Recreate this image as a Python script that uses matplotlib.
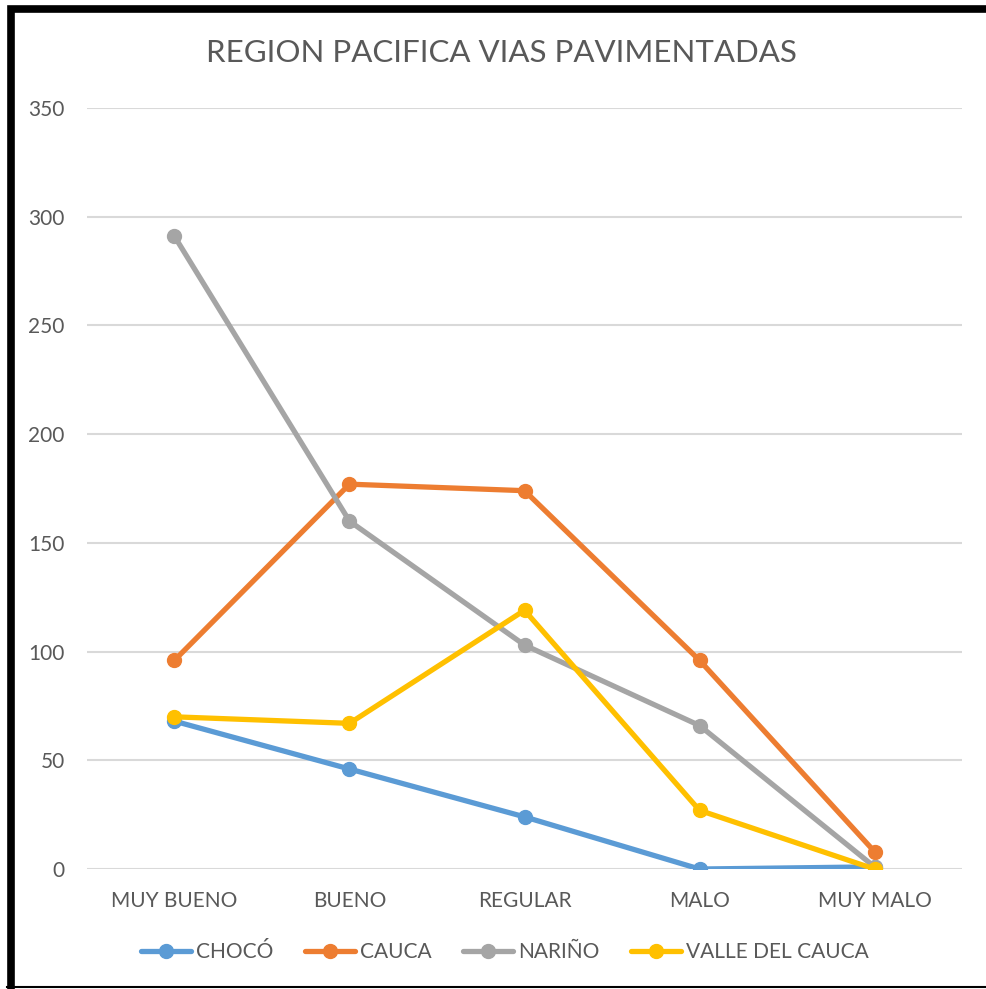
import matplotlib.pyplot as plt
from matplotlib.lines import Line2D

categorias = ["MUY BUENO", "BUENO", "REGULAR", "MALO", "MUY MALO"]
choco = [68, 46, 24, 0, 1]
cauca = [96, 177, 174, 96, 8]
narino = [291, 160, 103, 66, 1]
valle = [70, 67, 119, 27, 0]

series = [
    ("CHOCÓ", choco, "#5b9bd5"),
    ("CAUCA", cauca, "#ed7d31"),
    ("NARIÑO", narino, "#a5a5a5"),
    ("VALLE DEL CAUCA", valle, "#ffc000"),
]

plt.rcParams['font.family'] = ['Lato', 'DejaVu Sans']
texto = "#595959"

fig = plt.figure(figsize=(9.86, 9.89), dpi=100)
ax = fig.add_axes([0.0882, 0.1213, 0.8875, 0.7695])

x = range(len(categorias))
for nombre, valores, color in series:
    ax.plot(x, valores, color=color, lw=3.8, marker="o", markersize=10,
            label=nombre, solid_capstyle="round")

ax.set_xlim(-0.5, len(categorias) - 0.5)
ax.set_ylim(0, 350)
ax.set_yticks(range(0, 351, 50))
ax.set_xticks(list(x))
ax.set_xticklabels(categorias)
ax.grid(axis="y", color="#d9d9d9", lw=1.5)
ax.set_axisbelow(True)
for s in ax.spines.values():
    s.set_visible(False)
ax.tick_params(length=0, labelsize=15, labelcolor=texto)
ax.tick_params(axis="y", pad=16)
ax.tick_params(axis="x", pad=16)

fig.text(0.509, 0.946, "REGION PACIFICA VIAS PAVIMENTADAS", ha="center",
         va="center", fontsize=22.5, color=texto)

fig.legend(loc="center", bbox_to_anchor=(0.512, 0.037), ncol=4, frameon=False,
           fontsize=15, labelcolor=texto, handlelength=2.4, handletextpad=0.25,
           columnspacing=1.5)

# marco negro alrededor del gráfico
W, H = 986, 989
fig.add_artist(Line2D([10.5 / W, 10.5 / W, 1.0], [1 - 989 / H, 1 - 8.5 / H, 1 - 8.5 / H],
                      transform=fig.transFigure, color="black", lw=5.5,
                      solid_joinstyle="miter"))
fig.add_artist(Line2D([7 / W, 1.0], [1 - 987 / H, 1 - 987 / H],
                      transform=fig.transFigure, color="black", lw=1.5))

fig.savefig("out.png", dpi=100)
